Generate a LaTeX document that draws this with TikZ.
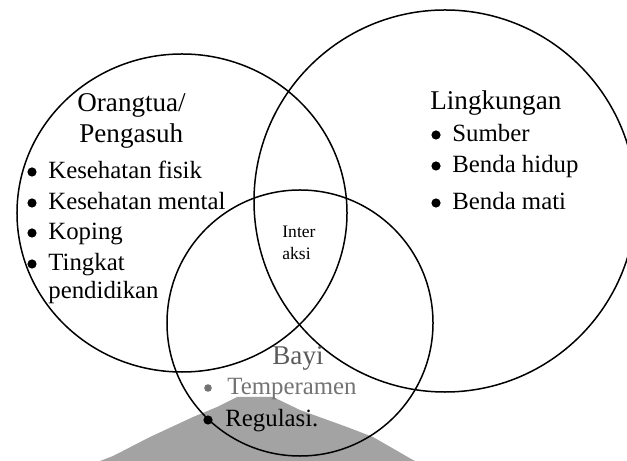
\documentclass[tikz,border=0pt]{standalone}
\usepackage{fontspec}
\setmainfont{Liberation Serif}
\usepackage{xcolor}
\usepackage{tikz}
\definecolor{ink}{HTML}{000000}
\definecolor{babygray}{HTML}{5A5A5A}
\definecolor{tempgray}{HTML}{737373}
\definecolor{markgray}{HTML}{A3A3A3}
\tikzset{
  ring/.style={draw=ink, line width=0.75bp},
  head/.style={anchor=base west, inner sep=0pt, text=ink, font=\fontsize{13.6}{16}\selectfont},
  item/.style={anchor=base west, inner sep=0pt, text=ink, font=\fontsize{12.45}{15}\selectfont},
  small/.style={anchor=base west, inner sep=0pt, text=ink, font=\fontsize{8.8}{10}\selectfont},
  dot/.style={circle, fill=ink, inner sep=0pt, minimum size=4.6bp},
}

\begin{document}
\begin{tikzpicture}[x=0.5bp, y=-0.5bp]
  \useasboundingbox (0,0) rectangle (627,461);
  \clip (0,0) rectangle (627,461);
  % faded mark behind the bottom ring
  \fill[markgray] (100,461) -- (113,456) -- (150,437) -- (193,417) -- (217,407)
    -- (237,397) -- (273,397) -- (300,410) -- (347,427) -- (373,437)
    -- (413,460) -- (415,461) -- cycle;
  % the three rings
  \draw[ring] (182,213) ellipse [x radius=82.5bp, y radius=79.5bp];
  \draw[ring] (445,201) circle (95.5bp);
  \draw[ring] (300,323) circle (66.5bp);
  % Orangtua / Pengasuh
  \node[head] (par1) at (77,112) {Orangtua/};
  \node[head] (par2) at (79,143) {Pengasuh};
  \foreach \t/\y [count=\i] in {Kesehatan fisik/179, Kesehatan mental/210, Koping/240, Tingkat/271} {
    \node[dot] (pd\i) at (32,\y-7) {};
    \node[item] (pt\i) at (48,\y) {\t};
  }
  \node[item] (pt5) at (48,299) {pendidikan};
  % Lingkungan
  \node[head] (env) at (430,110) {Lingkungan};
  \foreach \t/\y [count=\i] in {Sumber/142, Benda hidup/173, Benda mati/210} {
    \node[dot] (ed\i) at (436,\y-7) {};
    \node[item] (et\i) at (452,\y) {\t};
  }
  % Interaksi
  \node[small] (int1) at (282,238) {Inter};
  \node[small] (int2) at (282,260) {aksi};
  % Bayi
  \node[head, text=babygray] (baby) at (272,365) {Bayi};
  \node[dot, fill=tempgray, minimum size=3.8bp] (bd1) at (208,388) {};
  \node[item, text=tempgray] (bt1) at (227,395) {Temperamen};
  \node[dot] (bd2) at (208,420) {};
  \node[item] (bt2) at (225,427) {Regulasi.};
\end{tikzpicture}
\end{document}
